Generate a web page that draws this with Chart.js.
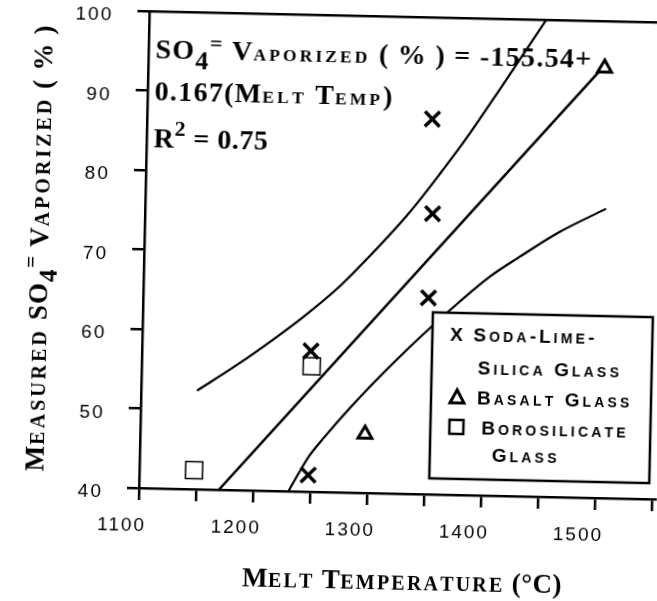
<!DOCTYPE html>
<html>
<head>
<meta charset="utf-8">
<script src="https://cdn.jsdelivr.net/npm/chart.js@4.4.1/dist/chart.umd.min.js"></script>
<style>
  html, body { margin: 0; padding: 0; background: #fff; overflow: hidden; }
  /* the scanned figure is tilted a little clockwise */
  #wrap { width: 657px; height: 601px; transform: rotate(1.25deg); transform-origin: 139px 488px; }
</style>
</head>
<body>
<div id="wrap"><canvas id="chart" width="657" height="601"></canvas></div>
<script>
// measured points (melt temperature in degC, SO4 vaporized in %)
const sodaTemp = [1248, 1248, 1350, 1352, 1350];
const sodaVap = [42.1, 57.7, 64.7, 75.3, 87.2];
const basaltTemp = [1297, 1500];
const basaltVap = [47.4, 94.1];
const boroTemp = [1148, 1249];
const boroVap = [42.4, 55.8];

// regression line and confidence band
const fitTemp = [1170, 1495];
const fitVap = [40.0, 93.6];
const upperTemp = [1149, 1183, 1218, 1241, 1269, 1286, 1306, 1329, 1340, 1359, 1374, 1390, 1408, 1448];
const upperVap = [52.4, 55.7, 59.4, 62.0, 65.5, 68.0, 71.1, 74.9, 76.9, 80.6, 83.6, 87.0, 91.0, 100.0];
const lowerTemp = [1231, 1240, 1249, 1262, 1283, 1311, 1334, 1354, 1375, 1403, 1429, 1463, 1504];
const lowerVap = [40.0, 42.4, 44.6, 47.0, 50.6, 55.0, 58.4, 61.2, 64.0, 67.5, 70.1, 73.3, 76.4];

const xTickLabels = [1100, 1200, 1300, 1400, 1500];
const yTickLabels = [40, 50, 60, 70, 80, 90, 100];

function toPoints(xs, ys) {
  return xs.map((x, i) => ({ x: x, y: ys[i] }));
}

// split text into small caps runs: capitals big, lower case letters as small capitals
function caps(text, big, small) {
  const out = [];
  for (const ch of text) {
    const low = ch !== ch.toUpperCase();
    out.push({ t: ch.toUpperCase(), size: low ? small : big, sc: low });
  }
  return out;
}

function drawRuns(ctx, runs, x, y, o) {
  let w = 0;
  runs.forEach(r => {
    ctx.font = o.weight + " " + r.size + "px " + o.family;
    r.w = ctx.measureText(r.t).width;
    r.gap = r.sp !== undefined ? r.sp : (r.sc ? o.scSpacing : o.spacing);
    w += r.w + r.gap;
  });
  let cx = o.align === "center" ? x - w / 2 : x;
  runs.forEach(r => {
    ctx.font = o.weight + " " + r.size + "px " + o.family;
    ctx.fillText(r.t, cx, y + (r.dy || 0));
    cx += r.w + r.gap;
  });
}

const serifFamily = '"Liberation Serif", "Times New Roman", serif';

const textPlugin = {
  id: "textPlugin",
  beforeDraw(chart) {
    chart.ctx.letterSpacing = "2px";
  },
  afterDatasetsDraw(chart) {
    const ctx = chart.ctx;
    ctx.save();
    ctx.letterSpacing = "0px";
    ctx.fillStyle = "#000";
    ctx.strokeStyle = "#000";
    ctx.textBaseline = "alphabetic";
    ctx.textAlign = "left";

    // legend box
    ctx.fillStyle = "#fff";
    ctx.fillRect(429, 306, 220, 166);
    ctx.lineWidth = 2.5;
    ctx.strokeRect(429, 306, 220, 166);
    ctx.fillStyle = "#000";

    const sans = { family: '"Liberation Sans", Arial, sans-serif', weight: "bold", spacing: 3, scSpacing: 3.2 };
    drawRuns(ctx, caps("Soda-Lime-", 19, 14), 470, 334, sans);
    drawRuns(ctx, caps("Silica Glass", 19, 14), 475, 367, sans);
    drawRuns(ctx, caps("Basalt Glass", 19, 14), 475, 397, sans);
    drawRuns(ctx, caps("Borosilicate", 19, 14), 480, 427, sans);
    drawRuns(ctx, caps("Glass", 19, 14), 491, 454, sans);

    // legend markers
    ctx.font = "bold 19px " + sans.family;
    ctx.textAlign = "center";
    ctx.fillText("X", 453, 334);
    ctx.textAlign = "left";
    ctx.lineWidth = 3;
    ctx.beginPath();
    ctx.moveTo(455, 383);
    ctx.lineTo(462, 396);
    ctx.lineTo(448, 396);
    ctx.closePath();
    ctx.stroke();
    ctx.lineWidth = 2.5;
    ctx.strokeRect(448, 413, 14, 14);

    // regression annotation
    const note = { family: serifFamily, weight: "bold", spacing: 1.3, scSpacing: 3.1 };
    const a = 28, s = 17.5;
    let line1 = [{ t: "S", size: a }, { t: "O", size: a }, { t: "4", size: 26, dy: 10 }, { t: "=", size: 22, dy: -9 }]
      .concat(caps(" Vaporized ( % ) = -155.54+", a, s));
    drawRuns(ctx, line1, 146, 58, note);
    drawRuns(ctx, caps("0.167(Melt Temp)", a, s), 146, 100, note);
    let line3 = [{ t: "R", size: a }, { t: "2", size: 22, dy: -12 }].concat(caps(" = 0.75", a, s));
    drawRuns(ctx, line3, 146, 147, { family: serifFamily, weight: "bold", spacing: 0.5, scSpacing: 2 });

    // axis titles
    const xt = { family: serifFamily, weight: "bold", spacing: 0.5, scSpacing: 2.2, align: "center" };
    drawRuns(ctx, caps("Melt Temperature (\u00b0C)", 27, 20), 404, 584, xt);

    ctx.translate(43, 250);
    ctx.rotate(-Math.PI / 2);
    let yTitle = caps("Measured ", 27, 20)
      .concat([{ t: "S", size: 27 }, { t: "O", size: 27 }, { t: "4", size: 25, dy: 9 }, { t: "=", size: 21, dy: -10 }])
      .concat(caps(" Vaporized ( % )", 27, 20));
    drawRuns(ctx, yTitle, 0, 0, { family: serifFamily, weight: "bold", spacing: 1.2, scSpacing: 3, align: "center" });
    ctx.restore();
  }
};

// keep the plot box fixed: no extra room for tick labels
function fixBox(w, h) {
  return s => {
    if (w !== null) s.width = w;
    if (h !== null) s.height = h;
    s.paddingTop = 0;
    s.paddingBottom = 0;
    s.paddingLeft = 0;
    s.paddingRight = 0;
  };
}

const axisLine = { display: true, color: "#000", width: 2.5 };
const tickGrid = { drawOnChartArea: false, drawTicks: true, tickLength: 12, color: "#000", lineWidth: 2.5 };
const tickFont = { family: '"Liberation Sans", Arial, sans-serif', size: 19 };

new Chart(document.getElementById("chart").getContext("2d"), {
  type: "scatter",
  data: {
    datasets: [
      {
        label: "fit",
        data: toPoints(fitTemp, fitVap),
        showLine: true,
        borderColor: "#000",
        borderWidth: 2.5,
        pointRadius: 0
      },
      {
        label: "upper",
        data: toPoints(upperTemp, upperVap),
        showLine: true,
        borderColor: "#000",
        borderWidth: 2.2,
        pointRadius: 0,
        cubicInterpolationMode: "monotone"
      },
      {
        label: "lower",
        data: toPoints(lowerTemp, lowerVap),
        showLine: true,
        borderColor: "#000",
        borderWidth: 2.2,
        pointRadius: 0,
        cubicInterpolationMode: "monotone"
      },
      {
        label: "Soda-Lime-Silica Glass",
        data: toPoints(sodaTemp, sodaVap),
        pointStyle: "crossRot",
        pointRadius: 10.5,
        pointBorderWidth: 3.5,
        borderColor: "#000"
      },
      {
        label: "Basalt Glass",
        data: toPoints(basaltTemp, basaltVap),
        pointStyle: "triangle",
        pointRadius: 8,
        pointBorderWidth: 3,
        borderColor: "#000",
        backgroundColor: "rgba(0,0,0,0)"
      },
      {
        label: "Borosilicate Glass",
        data: toPoints(boroTemp, boroVap),
        pointStyle: "rect",
        pointRadius: 12,
        pointBorderWidth: 1.5,
        borderColor: "#000",
        backgroundColor: "rgba(0,0,0,0)"
      }
    ]
  },
  options: {
    responsive: false,
    animation: false,
    layout: { padding: 0, autoPadding: false },
    plugins: { legend: { display: false }, tooltip: { enabled: false } },
    scales: {
      x: {
        type: "linear",
        position: "bottom",
        min: 1100,
        max: 1554,
        afterFit: fixBox(null, 113),
        border: axisLine,
        grid: tickGrid,
        ticks: {
          stepSize: 50,
          includeBounds: false,
          labelOffset: -16.5,
          padding: 14,
          color: "#000",
          font: tickFont,
          maxRotation: 0,
          autoSkip: false,
          callback: v => xTickLabels.includes(v) ? String(v) : ""
        }
      },
      xTop: {
        type: "linear",
        position: "top",
        min: 1100,
        max: 1554,
        afterFit: fixBox(null, 11),
        border: axisLine,
        grid: { display: false, drawTicks: false },
        ticks: { display: false }
      },
      y: {
        min: 40,
        max: 100,
        afterFit: fixBox(139, null),
        border: axisLine,
        grid: tickGrid,
        ticks: {
          stepSize: 10,
          labelOffset: 5,
          padding: 24,
          color: "#000",
          font: tickFont,
          callback: v => yTickLabels.includes(v) ? String(v) : ""
        }
      }
    }
  },
  plugins: [textPlugin]
});
</script>
</body>
</html>
